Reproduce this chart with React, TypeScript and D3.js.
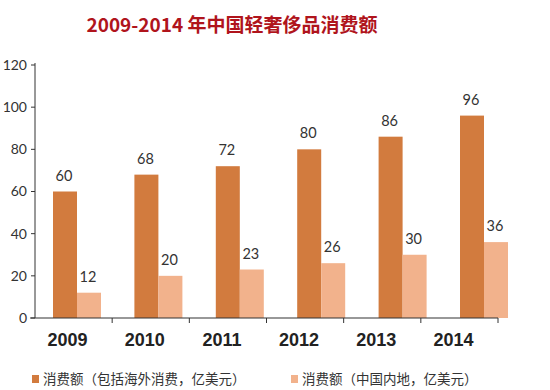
import React from 'react';
import * as d3 from 'd3';

const years = ['2009', '2010', '2011', '2012', '2013', '2014'];
const totalSpend = [60, 68, 72, 80, 86, 96];
const mainlandSpend = [12, 20, 23, 26, 30, 36];
const seriesKeys = ['total', 'mainland'];
const seriesNames = ['消费额（包括海外消费，亿美元）', '消费额（中国内地，亿美元）'];
const yTicks = [0, 20, 40, 60, 80, 100, 120];

const colors = { total: '#d27b3e', mainland: '#f2b28c' };

const width = 550;
const height = 390;

export default function App() {
  const y = d3.scaleLinear().domain([0, 120]).range([318, 65]);
  // axis bands (ticks + year labels)
  const xAxis = d3.scaleBand().domain(years).range([35, 498]);
  // bar group centres
  const xGroup = d3.scalePoint().domain(years).range([77, 484]);
  const xSub = d3.scaleBand().domain(seriesKeys).range([-24, 24]);

  const font = 'Lato, "Noto Sans", sans-serif';
  const cjk = '"Noto Sans CJK SC", sans-serif';

  return (
    <svg width={width} height={height} style={{ position: 'absolute', left: 0, top: 0, background: '#fff' }}>
      <text x={232} y={32} textAnchor="middle" fontFamily={cjk} fontWeight="bold" fontSize={19} fill="#b0141c">
        2009-2014 年中国轻奢侈品消费额
      </text>

      {/* y axis */}
      <line x1={35} x2={35} y1={63} y2={318} stroke="#333" strokeWidth={1} />
      {yTicks.map(t => (
        <g key={t} transform={`translate(0,${y(t)})`}>
          <line x1={31} x2={35} stroke="#333" />
          <text x={27} dy="0.35em" textAnchor="end" fontFamily={font} fontSize={14} fill="#333">
            {t}
          </text>
        </g>
      ))}

      {/* bars */}
      {years.map((yr, i) => {
        const vals = [totalSpend[i], mainlandSpend[i]];
        return (
          <g key={yr} transform={`translate(${xGroup(yr)},0)`}>
            {seriesKeys.map((k, j) => (
              <g key={k}>
                <rect
                  x={xSub(k)}
                  y={y(vals[j])}
                  width={xSub.bandwidth()}
                  height={y(0) - y(vals[j])}
                  fill={colors[k]}
                />
                <text
                  x={xSub(k)! + xSub.bandwidth() / 2 - 1}
                  y={y(vals[j]) - 11}
                  textAnchor="middle"
                  fontFamily={font}
                  fontSize={14.5}
                  fill="#333"
                >
                  {vals[j]}
                </text>
              </g>
            ))}
          </g>
        );
      })}

      {/* x axis */}
      <line x1={30} x2={498} y1={318} y2={318} stroke="#333" strokeWidth={1.2} />
      {years.map(yr => (
        <g key={yr}>
          <line x1={xAxis(yr)! + xAxis.bandwidth()} x2={xAxis(yr)! + xAxis.bandwidth()} y1={318} y2={323} stroke="#333" />
          <text
            x={xAxis(yr)! + xAxis.bandwidth() / 2 - 6}
            y={346}
            textAnchor="middle"
            fontFamily='"Liberation Sans Narrow", "Liberation Sans", sans-serif'
            fontSize={18}
            fontWeight="bold"
            fill="#222"
          >
            {yr}
          </text>
        </g>
      ))}

      {/* legend */}
      {seriesKeys.map((k, i) => {
        const lx = i === 0 ? 32 : 291;
        return (
          <g key={k} transform={`translate(${lx},379)`}>
            <rect x={0} y={-4} width={7} height={8} fill={colors[k]} />
            <text x={11} dy="0.35em" fontFamily={cjk} fontSize={13.5} fill="#333">
              {seriesNames[i]}
            </text>
          </g>
        );
      })}
    </svg>
  );
}
